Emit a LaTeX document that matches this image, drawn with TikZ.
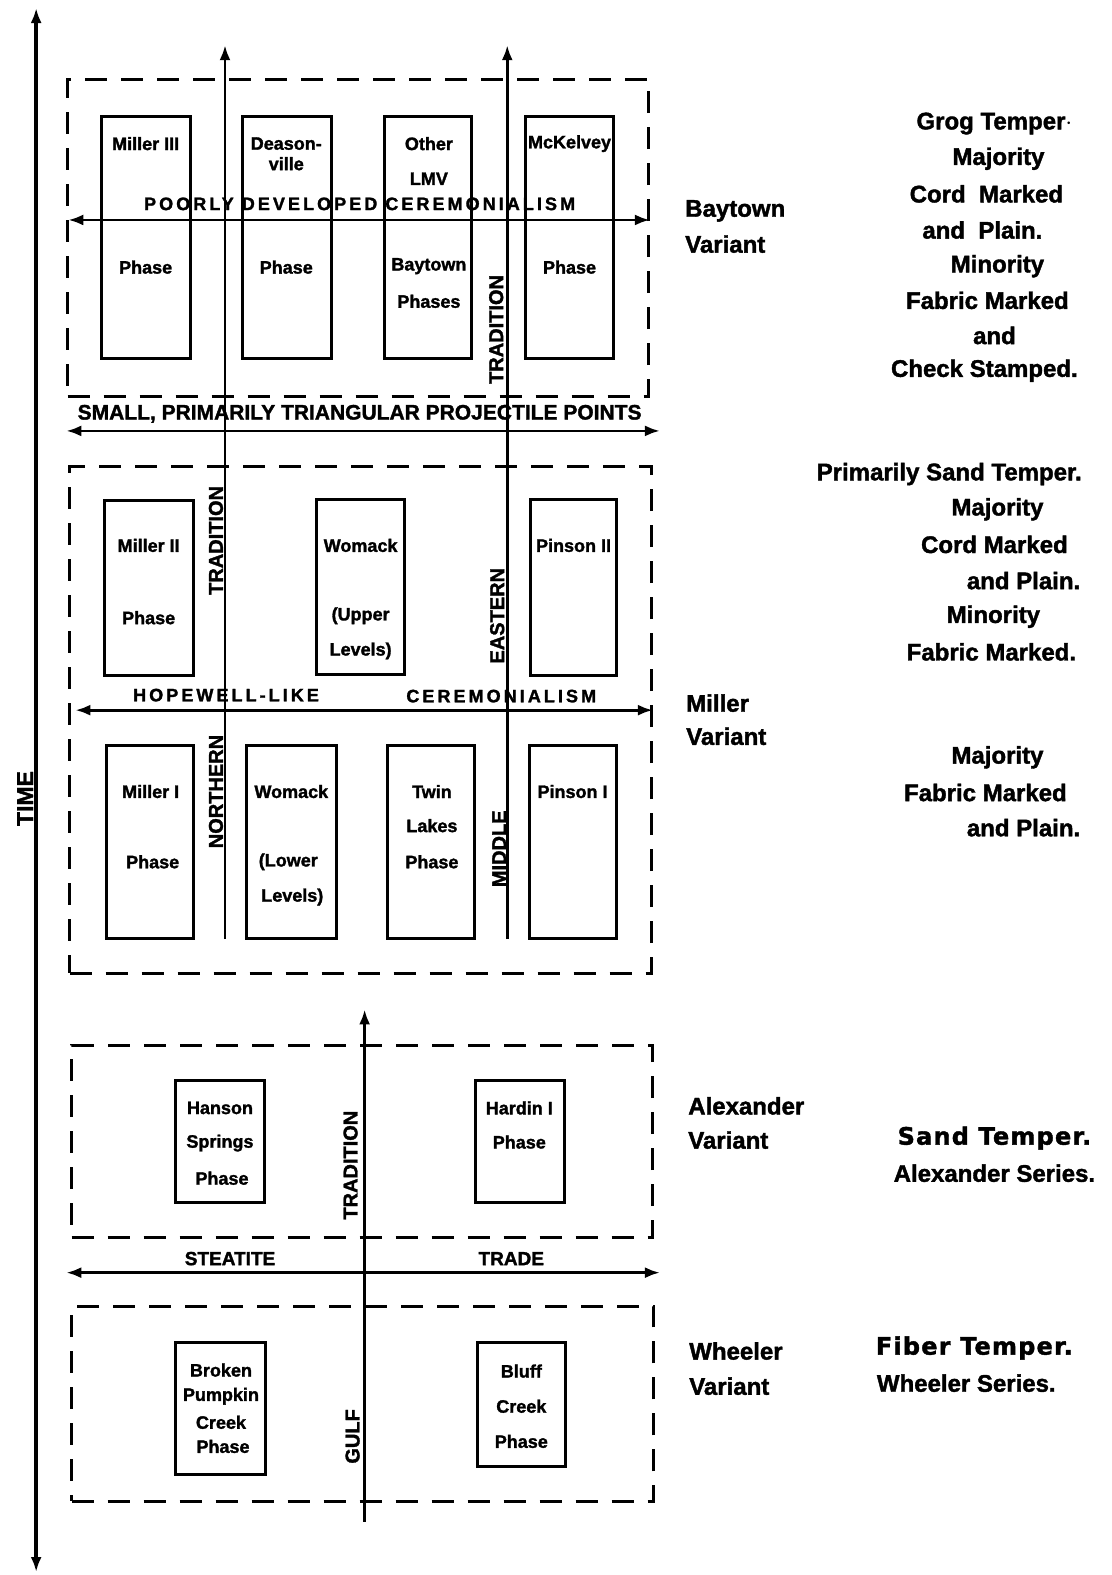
\documentclass[tikz,border=0pt]{standalone}
\usepackage{fontspec}
\setmainfont{Liberation Sans}[BoldFeatures={FakeBold=1.6}]
\newfontfamily\spacedfont[LetterSpace=17,BoldFeatures={FakeBold=1.6}]{Liberation Sans}
\newfontfamily\widefont[LetterSpace=5,BoldFeatures={FakeBold=1.6}]{DejaVu Sans}
\usetikzlibrary{arrows.meta}
\begin{document}
\begin{tikzpicture}[x=1.0045pt,y=-1.0045pt,
  pbox/.style={draw,line width=3pt,inner sep=0},
  dbox/.style={draw,line width=3pt,dash pattern=on 22pt off 14pt,inner sep=0},
  axis/.style={line width=2.8pt},
  tipup/.style={-{Latex[length=15pt,width=11pt]}},
  dtip/.style={{Latex[length=15pt,width=11pt]}-{Latex[length=15pt,width=11pt]}},
  bt/.style={font=\bfseries\fontsize{18}{20}\selectfont,inner sep=0},
  capt/.style={font=\bfseries\fontsize{21}{22}\selectfont,inner sep=0},
  scapt/.style={font=\spacedfont\bfseries\fontsize{18}{20}\selectfont,inner sep=0},
  rot/.style={font=\bfseries\fontsize{20}{20}\selectfont,inner sep=0,rotate=90},
  rl/.style={font=\bfseries\fontsize{24}{26}\selectfont,inner sep=0},
  wl/.style={font=\widefont\bfseries\fontsize{24}{26}\selectfont,inner sep=0},
  var/.style={font=\bfseries\fontsize{24}{26}\selectfont,inner sep=0,anchor=west}
]
\useasboundingbox (0,0) rectangle (1107,1568);

% TIME axis
\coordinate (tt) at (36,8);
\coordinate (tb) at (36,1565);
\draw[axis,line width=3.4pt,dtip] (tt) -- (tb);
\node[rot,font=\bfseries\fontsize{23}{23}\selectfont] (time) at (25,795) {TIME};

% dashed boxes
\node[dbox,minimum width=581,minimum height=317] (bay) at (356.5,236.5) {};
\node[dbox,minimum width=582,minimum height=507] (mil) at (359,716.5) {};
\node[dbox,minimum width=581,minimum height=192] (alx) at (360.5,1136) {};
\node[dbox,minimum width=582,minimum height=195] (whe) at (361,1397.5) {};

% vertical tradition arrows
\coordinate (v1t) at (224,45);
\coordinate (v1b) at (224,935);
\coordinate (v2t) at (505,45);
\coordinate (v2b) at (505,935);
\coordinate (v3t) at (363,1005);
\coordinate (v3b) at (363,1515);
\draw[axis,tipup] (v1b) -- (v1t);
\draw[axis,tipup] (v2b) -- (v2t);
\draw[axis,tipup] (v3b) -- (v3t);

% horizontal arrows
\coordinate (h1l) at (68,219);  \coordinate (h1r) at (647,219);
\coordinate (h2l) at (66,429);  \coordinate (h2r) at (657,429);
\coordinate (h3l) at (75,707);  \coordinate (h3r) at (650,707);
\coordinate (h4l) at (66,1267); \coordinate (h4r) at (657,1267);
\draw[axis,dtip] (h1l) -- (h1r);
\draw[axis,dtip] (h2l) -- (h2r);
\draw[axis,dtip] (h3l) -- (h3r);
\draw[axis,dtip] (h4l) -- (h4r);

\node[scapt] (pdc) at (358,203) {POORLY DEVELOPED CEREMONIALISM};
\node[capt] (sptp) at (358,412) {SMALL, PRIMARILY TRIANGULAR PROJECTILE POINTS};
\node[scapt] (hl) at (225,692) {HOPEWELL-LIKE};
\node[scapt] (cer) at (499,693) {CEREMONIALISM};
\node[capt,font=\bfseries\fontsize{19}{20}\selectfont] (ste) at (229,1253) {STEATITE};
\node[capt,font=\bfseries\fontsize{19}{20}\selectfont] (trd) at (509,1253) {TRADE};

% rotated labels
\node[rot] (tr1) at (494,328) {TRADITION};
\node[rot] (tr2) at (215,538) {TRADITION};
\node[rot] (eas) at (495,613) {EASTERN};
\node[rot] (nor) at (215,788) {NORTHERN};
\node[rot] (mid) at (497,845) {MIDDLE};
\node[rot] (tr3) at (349,1160) {TRADITION};
\node[rot] (gulf) at (351,1430) {GULF};

% Baytown phase boxes
\node[pbox,minimum width=89,minimum height=242] (m3) at (145.5,236) {};
\node[pbox,minimum width=89,minimum height=242] (dea) at (285.5,236) {};
\node[pbox,minimum width=87,minimum height=242] (lmv) at (426.5,236) {};
\node[pbox,minimum width=88,minimum height=242] (mck) at (567,236) {};
\node[bt] at (145,143) {Miller III};
\node[bt] at (145,266) {Phase};
\node[bt] at (285,143) {Deason-};
\node[bt] at (285,163) {ville};
\node[bt] at (285,266) {Phase};
\node[bt] at (427,143) {Other};
\node[bt] at (427,178) {LMV};
\node[bt] at (427,265) {Baytown};
\node[bt] at (427,300) {Phases};
\node[bt] at (567,143) {McKelvey};
\node[bt] at (567,266) {Phase};

% Miller upper
\node[pbox,minimum width=89,minimum height=175] (m2) at (148.5,585.5) {};
\node[pbox,minimum width=88,minimum height=175] (wu) at (359,584.5) {};
\node[pbox,minimum width=86,minimum height=176] (p2) at (571,585) {};
\node[bt] at (148,543) {Miller II};
\node[bt] at (148,615) {Phase};
\node[bt] at (359,543) {Womack};
\node[bt] at (359,613) {(Upper};
\node[bt] at (359,648) {Levels)};
\node[bt] at (571,543) {Pinson II};

% Miller lower
\node[pbox,minimum width=87,minimum height=193] (m1) at (149.5,838.5) {};
\node[pbox,minimum width=90,minimum height=193] (wl) at (290,838.5) {};
\node[pbox,minimum width=87,minimum height=193] (tl) at (429.5,838.5) {};
\node[pbox,minimum width=87,minimum height=193] (p1) at (570.5,838.5) {};
\node[bt] at (150,788) {Miller I};
\node[bt] at (152,858) {Phase};
\node[bt] at (290,788) {Womack};
\node[bt] at (287,858) {(Lower};
\node[bt] at (291,893) {Levels)};
\node[bt] at (430,788) {Twin};
\node[bt] at (430,822) {Lakes};
\node[bt] at (430,858) {Phase};
\node[bt] at (570,788) {Pinson I};

% Alexander
\node[pbox,minimum width=89,minimum height=122] (hs) at (219.5,1136) {};
\node[pbox,minimum width=89,minimum height=122] (hd) at (517.5,1136) {};
\node[bt] at (219,1103) {Hanson};
\node[bt] at (219,1138) {Springs};
\node[bt] at (221,1173) {Phase};
\node[bt] at (517,1103) {Hardin I};
\node[bt] at (517,1137) {Phase};

% Wheeler
\node[pbox,minimum width=90,minimum height=132] (bpc) at (220,1402) {};
\node[pbox,minimum width=88,minimum height=124] (bc) at (519,1398) {};
\node[bt] at (220,1364) {Broken};
\node[bt] at (220,1390) {Pumpkin};
\node[bt] at (220,1416) {Creek};
\node[bt] at (222,1440) {Phase};
\node[bt] at (519,1365) {Bluff};
\node[bt] at (519,1400) {Creek};
\node[bt] at (519,1435) {Phase};

% variant labels
\node[var] at (682,210) {Baytown};
\node[var] at (682,243) {Variant};
\node[var] at (683,700) {Miller};
\node[var] at (683,733) {Variant};
\node[var] at (685,1101) {Alexander};
\node[var] at (685,1135) {Variant};
\node[var] at (686,1345) {Wheeler};
\node[var] at (686,1380) {Variant};

% ceramic descriptions
\node[rl] at (990,123) {Grog Temper$\cdot$};
\node[rl] at (994,158) {Majority};
\node[rl] at (982,193) {Cord\ \ Marked};
\node[rl] at (978,229) {and\ \ Plain.};
\node[rl] at (993,265) {Minority};
\node[rl] at (983,299) {Fabric Marked};
\node[rl] at (990,334) {and};
\node[rl] at (980,369) {Check Stamped.};

\node[rl] at (945,472) {Primarily Sand Temper.};
\node[rl] at (993,507) {Majority};
\node[rl] at (990,542) {Cord Marked};
\node[rl] at (1019,578) {and Plain.};
\node[rl] at (989,614) {Minority};
\node[rl] at (987,649) {Fabric Marked.};

\node[rl] at (993,754) {Majority};
\node[rl] at (981,789) {Fabric Marked};
\node[rl] at (1019,824) {and Plain.};

\node[wl] at (990,1133) {Sand Temper.};
\node[rl] at (990,1168) {Alexander Series.};
\node[wl] at (970,1342) {Fiber Temper.};
\node[rl] at (962,1377) {Wheeler Series.};
\end{tikzpicture}
\end{document}
